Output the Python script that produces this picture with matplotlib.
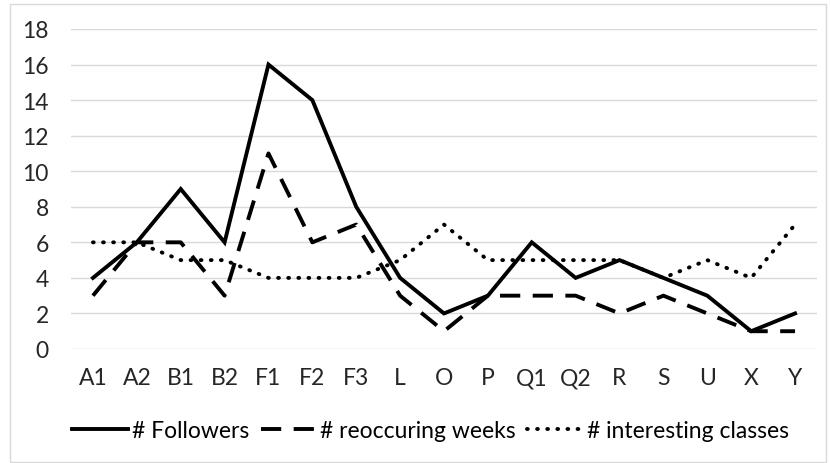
import matplotlib as mpl
mpl.use('Agg')
import matplotlib.pyplot as plt
import numpy as np

categories = ['A1', 'A2', 'B1', 'B2', 'F1', 'F2', 'F3', 'L', 'O', 'P',
              'Q1', 'Q2', 'R', 'S', 'U', 'X', 'Y']
followers = [4, 6, 9, 6, 16, 14, 8, 4, 2, 3, 6, 4, 5, 4, 3, 1, 2]
reoccuring = [3, 6, 6, 3, 11, 6, 7, 3, 1, 3, 3, 3, 2, 3, 2, 1, 1]
interesting = [6, 6, 5, 5, 4, 4, 4, 5, 7, 5, 5, 5, 5, 4, 5, 4, 7]
yticks = list(range(0, 19, 2))

plt.rcParams['font.family'] = ['Lato', 'DejaVu Sans']
plt.rcParams['font.size'] = 16.5

fig = plt.figure(figsize=(8.3, 4.64), dpi=100)
# chart border like the spreadsheet frame
fig.patches.append(mpl.patches.Rectangle((10 / 830, 0.002), 816 / 830, 1 - 6 / 464,
                                         transform=fig.transFigure, fill=False,
                                         edgecolor='#d9d9d9', linewidth=1))
ax = fig.add_axes([71 / 830, 114 / 464, 746 / 830, 320 / 464])

x = np.arange(len(categories))
ax.plot(x, followers, color='black', lw=2.8, label='# Followers',
        solid_joinstyle='miter')
ax.plot(x, reoccuring, color='black', lw=2.8, ls=(0, (5.2, 3.2)),
        label='# reoccuring weeks')
ax.plot(x, interesting, color='black', lw=2.8, ls=(0, (0.2, 2.4)),
        dash_capstyle='round', label='# interesting classes')

ax.set_xlim(-0.5, len(categories) - 0.5)
ax.set_ylim(0, 18)
ax.set_yticks(yticks)
ax.set_xticks(x)
ax.set_xticklabels(categories)
ax.yaxis.grid(True, color='#d9d9d9', lw=1)
ax.set_axisbelow(True)
for s in ax.spines.values():
    s.set_visible(False)
ax.tick_params(length=0, colors='#262626', labelsize=16.5)
ax.tick_params(axis='y', pad=16)
ax.tick_params(axis='x', pad=13)

# legend under the plot, a bit left of centre as in the original
ax.legend(loc='center', bbox_to_anchor=(0.482, -0.256), ncol=3, frameon=False,
          handlelength=2.45, handletextpad=0.15, columnspacing=0.5, fontsize=16.5)

fig.savefig('out.png', dpi=100)
